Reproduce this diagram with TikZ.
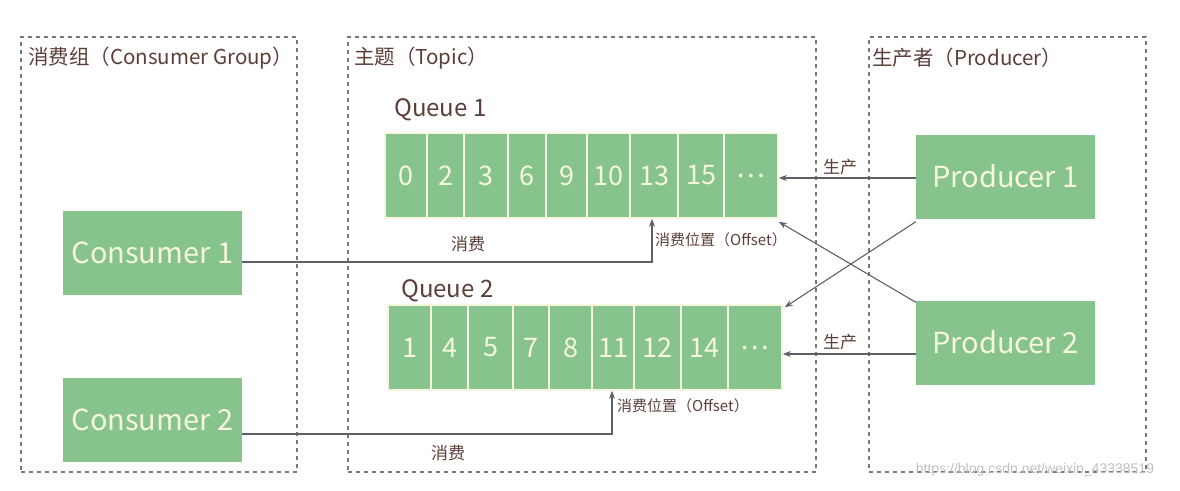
\documentclass[tikz,border=0pt]{standalone}
\usepackage{fontspec}
\setmainfont{Noto Sans CJK SC}
\newfontfamily\wmfont{Liberation Sans}
\usetikzlibrary{arrows.meta,calc}
\definecolor{boxgreen}{HTML}{86C38D}
\definecolor{cream}{HTML}{F7F6DE}
\definecolor{brown}{HTML}{5B3E37}
\definecolor{arrgray}{HTML}{5C626B}
\definecolor{dashgray}{HTML}{777777}
\tikzset{
  grp/.style={draw=dashgray, line width=2pt, dash pattern=on 4pt off 4pt, inner sep=0pt},
  bigbox/.style={fill=boxgreen, draw=none, minimum width=179pt, minimum height=84pt, inner sep=0pt,
    text=cream, font=\fontsize{29}{31}\selectfont},
  cell/.style={fill=boxgreen, draw=cream, line width=1.6pt, minimum height=85pt, inner sep=0pt,
    text=cream, font=\fontsize{27}{30}\selectfont},
  hdr/.style={anchor=west, text=brown, inner sep=0pt, font=\fontsize{20.5}{22}\selectfont},
  qlbl/.style={anchor=west, text=brown, inner sep=0pt, font=\fontsize{24}{26}\selectfont},
  lbl/.style={text=brown, inner sep=0pt, font=\fontsize{17}{19}\selectfont},
  offlbl/.style={anchor=west, text=brown, inner sep=0pt, font=\fontsize{15}{17}\selectfont},
  arr/.style={draw=arrgray, line width=1.1pt, -{Stealth[length=8pt,width=6pt]}},
}
\begin{document}
\begin{tikzpicture}[x=1pt,y=-1pt]
\useasboundingbox (0,0) rectangle (1180,490);
% group frames
\node[grp, minimum width=276pt, minimum height=435pt] (g1) at (159,254.5) {};
\node[grp, minimum width=468pt, minimum height=435pt] (g2) at (582,254.5) {};
\node[grp, minimum width=277pt, minimum height=435pt] (g3) at (1007.5,254.5) {};
\node[hdr] (h1) at (28,58) {消费组（Consumer Group）};
\node[hdr] (h2) at (354,58) {主题（Topic）};
\node[hdr] (h3) at (872,58) {生产者（Producer）};
% consumers and producers
\node[bigbox] (c1) at (152.5,253) {Consumer 1};
\node[bigbox] (c2) at (152.5,420) {Consumer 2};
\node[bigbox] (p1) at (1005.5,176.5) {Producer 1};
\node[bigbox] (p2) at (1005.5,342.5) {Producer 2};
% queue labels
\node[qlbl] (ql1) at (394,110) {Queue 1};
\node[qlbl] (ql2) at (401,291) {Queue 2};
% queue 1 cells
\foreach \l/\r/\t [count=\i] in {385/427/0,427/464/2,464/508/3,508/546/6,546/587/9,587/630/10,630/678/13,678/724/15,724/778/\dots}{
  \pgfmathsetmacro\w{\r-\l}
  \pgfmathsetmacro\cx{(\l+\r)/2}
  \node[cell, minimum width=\w pt] (qa\i) at (\cx,175.5) {\t};
}
% queue 2 cells
\foreach \l/\r/\t [count=\i] in {388/431/1,431/468/4,468/513/5,513/549/7,549/592/8,592/634/11,634/681/12,681/728/14,728/782/\dots}{
  \pgfmathsetmacro\w{\r-\l}
  \pgfmathsetmacro\cx{(\l+\r)/2}
  \node[cell, minimum width=\w pt] (qb\i) at (\cx,347.5) {\t};
}
% consume arrows
\draw[arr] ([yshift=-9pt]c1.east) -| ([xshift=-2pt]qa7.south);
\draw[arr] ([yshift=-14pt]c2.east) -| ([xshift=-1pt]qb6.south);
\node[lbl] (x1) at (468,244) {消费};
\node[lbl] (x2) at (448,453) {消费};
\node[offlbl] (o1) at (655,240) {消费位置（Offset）};
\node[offlbl] (o2) at (617,406) {消费位置（Offset）};
% produce arrows
\draw[arr] ([yshift=-1.5pt]p1.west) -- ([yshift=-1.5pt]p1.west -| qa9.east);
\draw[arr] ([yshift=-11.5pt]p2.west) -- ([yshift=-11.5pt]p2.west -| qb9.east);
\node[lbl] (s1) at (840,167) {生产};
\node[lbl] (s2) at (840,342) {生产};
\draw[arr] ([yshift=-3pt]p1.south west) -- ([xshift=2pt,yshift=-3pt]qb9.north east);
\draw[arr] ([yshift=-2pt]p2.north west) -- ([yshift=-3pt]qa9.south east);
% watermark
\node[text=black!25, inner sep=0pt, font=\wmfont\fontsize{14}{16}\selectfont] (wm) at (1035,470) {https://blog.csdn.net/weixin\_43338519};
\end{tikzpicture}
\end{document}
